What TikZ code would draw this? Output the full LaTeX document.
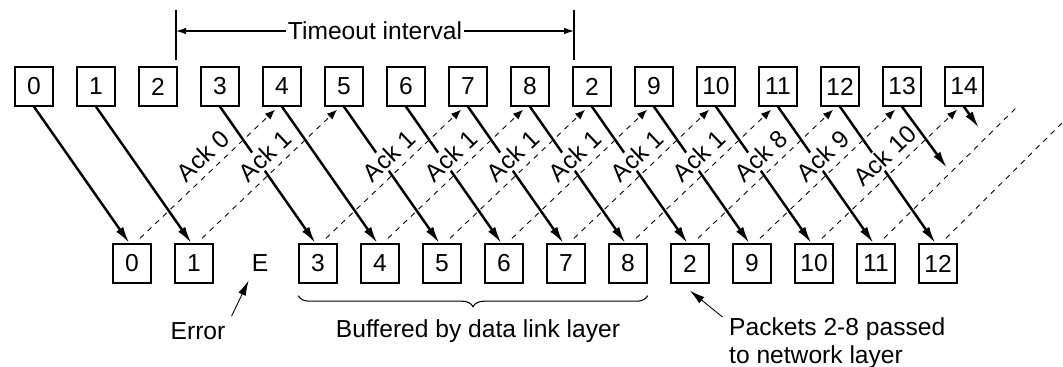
\documentclass[tikz,border=0pt]{standalone}
\usepackage{fontspec}
\setmainfont{Liberation Sans}
\usepackage{tikz}
\usetikzlibrary{arrows.meta, decorations.pathreplacing}
\tikzstyle{paquet} = [draw, line width=0.8pt, minimum width=0.76cm, minimum height=0.78cm, inner sep=0pt]
\tikzstyle{envoi} = [-{Latex[length=3.4mm,width=1.7mm]}, line width=1.4pt]
\tikzstyle{ack} = [-{Latex[length=2mm,width=1.6mm]}, dash pattern=on 3pt off 3pt, line width=0.5pt]
\tikzstyle{ackfin} = [dash pattern=on 3pt off 3pt, line width=0.5pt]
\tikzstyle{etiq} = [pos=0.55, sloped, above=3pt, fill=white, inner sep=1pt]
\tikzstyle{renvoi} = [-{Latex[length=3mm,width=1.6mm]}, line width=0.5pt]
\tikzstyle{tempo} = [{Latex[length=2mm,width=1.3mm]}-{Latex[length=2mm,width=1.3mm]}, line width=0.6pt]

\begin{document}
\begin{tikzpicture}[font=\fontsize{14}{17}\selectfont]
	\useasboundingbox (0,0) rectangle (21.26,7.34);

	% trames emises
	\node[paquet] (t0) at (0.68,5.61) {0};
	\node[paquet] (t1) at (1.92,5.61) {1};
	\node[paquet] (t2) at (3.16,5.61) {2};
	\node[paquet] (t3) at (4.40,5.61) {3};
	\node[paquet] (t4) at (5.64,5.61) {4};
	\node[paquet] (t5) at (6.88,5.61) {5};
	\node[paquet] (t6) at (8.12,5.61) {6};
	\node[paquet] (t7) at (9.36,5.61) {7};
	\node[paquet] (t8) at (10.60,5.61) {8};
	\node[paquet] (t9) at (11.84,5.61) {2};
	\node[paquet] (t10) at (13.08,5.61) {9};
	\node[paquet] (t11) at (14.32,5.61) {10};
	\node[paquet] (t12) at (15.56,5.61) {11};
	\node[paquet] (t13) at (16.80,5.61) {12};
	\node[paquet] (t14) at (18.04,5.61) {13};
	\node[paquet] (t15) at (19.28,5.61) {14};

	% trames recues
	\node[paquet] (b0) at (2.64,2.07) {0};
	\node[paquet] (b1) at (3.88,2.07) {1};
	\node (E) at (5.20,2.07) {E};
	\node[paquet] (b3) at (6.36,2.07) {3};
	\node[paquet] (b4) at (7.60,2.07) {4};
	\node[paquet] (b5) at (8.84,2.07) {5};
	\node[paquet] (b6) at (10.08,2.07) {6};
	\node[paquet] (b7) at (11.32,2.07) {7};
	\node[paquet] (b8) at (12.56,2.07) {8};
	\node[paquet] (b9) at (13.80,2.07) {2};
	\node[paquet] (b10) at (15.04,2.07) {9};
	\node[paquet] (b11) at (16.28,2.07) {10};
	\node[paquet] (b12) at (17.52,2.07) {11};
	\node[paquet] (b13) at (18.76,2.07) {12};

	\coordinate (p14) at (18.94,3.98);
	\coordinate (p15) at (19.58,4.78);
	\coordinate (f12) at (20.34,5.20);
	\coordinate (f13) at (21.26,4.90);

	% timeout
	\coordinate (ta) at (3.52,6.72);
	\coordinate (tb) at (11.48,6.72);
	\draw[line width=0.6pt] (3.52,7.14) -- (3.52,6.14);
	\draw[line width=0.6pt] (11.48,7.14) -- (11.48,6.14);
	\draw[tempo] (ta) -- node[fill=white, inner sep=1pt] (tmo) {Timeout interval} (tb);

	% envois
	\draw[envoi] (t0.south) -- ([xshift=-0.05cm]b0.north);
	\draw[envoi] (t1.south) -- ([xshift=-0.05cm]b1.north);
	\draw[envoi] (t3.south) -- ([xshift=-0.05cm]b3.north);
	\draw[envoi] (t4.south) -- ([xshift=-0.05cm]b4.north);
	\draw[envoi] (t5.south) -- ([xshift=-0.05cm]b5.north);
	\draw[envoi] (t6.south) -- ([xshift=-0.05cm]b6.north);
	\draw[envoi] (t7.south) -- ([xshift=-0.05cm]b7.north);
	\draw[envoi] (t8.south) -- ([xshift=-0.05cm]b8.north);
	\draw[envoi] (t9.south) -- ([xshift=-0.05cm]b9.north);
	\draw[envoi] (t10.south) -- ([xshift=-0.05cm]b10.north);
	\draw[envoi] (t11.south) -- ([xshift=-0.05cm]b11.north);
	\draw[envoi] (t12.south) -- ([xshift=-0.05cm]b12.north);
	\draw[envoi] (t13.south) -- ([xshift=-0.05cm]b13.north);
	\draw[envoi] (t14.south) -- (p14);
	\draw[envoi] (t15.south) -- (p15);

	% acquittements
	\draw[ack] ([xshift=0.16cm,yshift=0.1cm]b0.north) -- node[etiq] (a0) {Ack 0} ([xshift=-0.14cm,yshift=-0.06cm]t4.south);
	\draw[ack] ([xshift=0.16cm,yshift=0.1cm]b1.north) -- node[etiq] (a1) {Ack 1} ([xshift=-0.14cm,yshift=-0.06cm]t5.south);
	\draw[ack] ([xshift=0.16cm,yshift=0.1cm]b3.north) -- node[etiq] (a3) {Ack 1} ([xshift=-0.14cm,yshift=-0.06cm]t7.south);
	\draw[ack] ([xshift=0.16cm,yshift=0.1cm]b4.north) -- node[etiq] (a4) {Ack 1} ([xshift=-0.14cm,yshift=-0.06cm]t8.south);
	\draw[ack] ([xshift=0.16cm,yshift=0.1cm]b5.north) -- node[etiq] (a5) {Ack 1} ([xshift=-0.14cm,yshift=-0.06cm]t9.south);
	\draw[ack] ([xshift=0.16cm,yshift=0.1cm]b6.north) -- node[etiq] (a6) {Ack 1} ([xshift=-0.14cm,yshift=-0.06cm]t10.south);
	\draw[ack] ([xshift=0.16cm,yshift=0.1cm]b7.north) -- node[etiq] (a7) {Ack 1} ([xshift=-0.14cm,yshift=-0.06cm]t11.south);
	\draw[ack] ([xshift=0.16cm,yshift=0.1cm]b8.north) -- node[etiq] (a8) {Ack 1} ([xshift=-0.14cm,yshift=-0.06cm]t12.south);
	\draw[ack] ([xshift=0.16cm,yshift=0.1cm]b9.north) -- node[etiq] (a9) {Ack 8} ([xshift=-0.14cm,yshift=-0.06cm]t13.south);
	\draw[ack] ([xshift=0.16cm,yshift=0.1cm]b10.north) -- node[etiq] (a10) {Ack 9} ([xshift=-0.14cm,yshift=-0.06cm]t14.south);
	\draw[ack] ([xshift=0.16cm,yshift=0.1cm]b11.north) -- node[etiq] (a11) {Ack 10} ([xshift=-0.14cm,yshift=-0.06cm]t15.south);
	\draw[ackfin] ([xshift=0.16cm,yshift=0.1cm]b12.north) -- (f12);
	\draw[ackfin] ([xshift=0.16cm,yshift=0.1cm]b13.north) -- (f13);

	% legendes du bas
	\node (err) at (3.96,0.72) {Error};
	\draw[renvoi] (err.north east) -- ([xshift=0.06cm,yshift=-0.05cm]E.south west);

	\draw[line width=0.6pt, decoration={brace,mirror,amplitude=0.22cm}, decorate]
		([yshift=-0.24cm]b3.south west) -- ([yshift=-0.24cm]b8.south east);
	\node (buf) at (9.56,0.71) {Buffered by data link layer};

	\node[align=left, anchor=west, font=\fontsize{14}{16}\selectfont] (pk) at (14.46,0.48) {Packets 2-8 passed\\to network layer};
	\coordinate (pka) at (14.45,1.00);
	\draw[renvoi] (pka) -- ([yshift=-0.14cm]b9.south);

\end{tikzpicture}
\end{document}
